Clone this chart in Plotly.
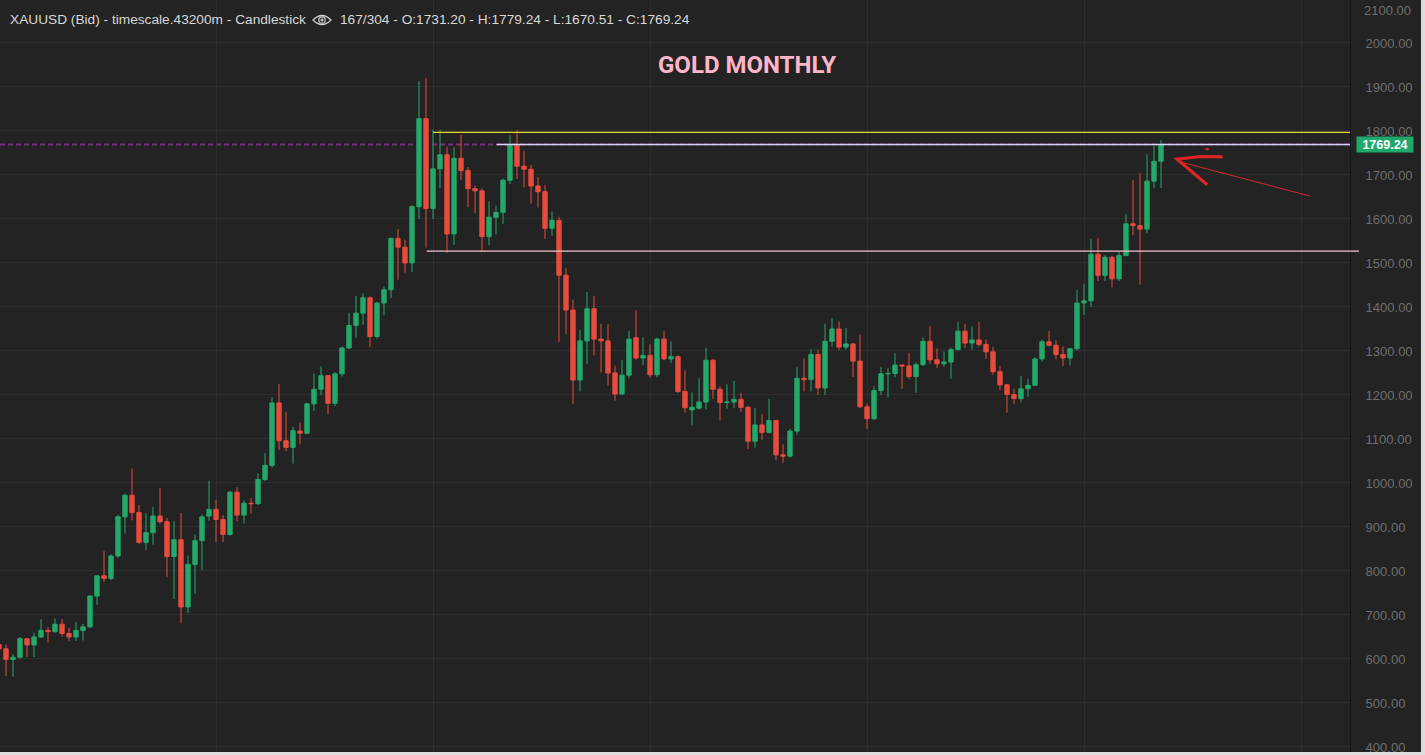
import plotly.graph_objects as go
import pandas as pd

# ---------------- data (XAUUSD monthly, Aug 2006 - Jun 2020) ----------------
months = pd.date_range("2006-08-01", periods=167, freq="MS").strftime("%Y-%m").tolist()

opens = [
    633, 623, 599, 604, 646,
    632, 650, 665, 662, 679, 658, 650, 665, 673, 743, 789, 783,
    834, 923, 972, 933, 865, 887, 925, 912, 833, 871, 718, 815,
    869, 925, 940, 917, 883, 979, 927, 954, 953, 1008, 1040, 1182,
    1096, 1081, 1118, 1113, 1180, 1213, 1244, 1181, 1248, 1307, 1358, 1386,
    1421, 1333, 1409, 1439, 1556, 1536, 1500, 1628, 1828, 1624, 1714, 1746,
    1566, 1738, 1710, 1669, 1664, 1560, 1604, 1615, 1688, 1768, 1720, 1713,
    1675, 1662, 1579, 1597, 1472, 1393, 1234, 1323, 1396, 1327, 1323, 1250,
    1202, 1245, 1330, 1284, 1290, 1246, 1327, 1282, 1287, 1208, 1166, 1170,
    1184, 1279, 1213, 1183, 1184, 1190, 1172, 1095, 1132, 1115, 1142, 1064,
    1061, 1118, 1238, 1235, 1292, 1216, 1322, 1350, 1309, 1316, 1277, 1173,
    1146, 1210, 1248, 1249, 1268, 1266, 1242, 1269, 1322, 1280, 1271, 1275,
    1303, 1345, 1318, 1325, 1315, 1298, 1253, 1223, 1201, 1192, 1214, 1222,
    1282, 1321, 1313, 1292, 1284, 1305, 1409, 1414, 1520, 1472, 1513, 1464,
    1517, 1589, 1585, 1577, 1686, 1731.20,
]
highs = [
    664, 633, 611, 650, 648,
    660, 690, 672, 692, 691, 671, 684, 680, 744, 790, 845, 838,
    928, 976, 1033, 950, 931, 946, 988, 920, 913, 932, 835, 883,
    928, 1005, 962, 927, 982, 990, 960, 966, 1022, 1068, 1195, 1225,
    1162, 1128, 1137, 1181, 1249, 1265, 1245, 1252, 1310, 1387, 1425, 1431,
    1424, 1411, 1447, 1557, 1577, 1553, 1632, 1913, 1921, 1803, 1803, 1764,
    1763, 1791, 1718, 1676, 1669, 1640, 1630, 1692, 1790, 1802, 1755, 1723,
    1695, 1677, 1617, 1605, 1488, 1417, 1348, 1434, 1425, 1362, 1361, 1267,
    1280, 1346, 1392, 1331, 1315, 1330, 1345, 1322, 1290, 1256, 1206, 1238,
    1307, 1282, 1219, 1224, 1232, 1205, 1175, 1170, 1157, 1191, 1143, 1088,
    1123, 1263, 1283, 1304, 1303, 1362, 1375, 1367, 1352, 1318, 1337, 1180,
    1220, 1264, 1261, 1295, 1270, 1296, 1274, 1331, 1357, 1306, 1299, 1307,
    1366, 1362, 1356, 1366, 1326, 1309, 1266, 1225, 1214, 1243, 1237, 1285,
    1326, 1346, 1324, 1310, 1305, 1439, 1452, 1555, 1557, 1518, 1516, 1525,
    1611, 1689, 1704, 1747, 1765, 1779.24,
]
lows = [
    610, 561, 560, 601, 605,
    604, 648, 637, 660, 651, 640, 641, 642, 670, 723, 775, 779,
    830, 885, 915, 862, 848, 860, 908, 786, 736, 681, 705, 748,
    802, 914, 866, 866, 880, 913, 908, 930, 950, 1004, 1035, 1075,
    1072, 1044, 1088, 1112, 1164, 1200, 1157, 1175, 1242, 1305, 1330, 1360,
    1309, 1328, 1381, 1420, 1462, 1478, 1480, 1600, 1535, 1600, 1670, 1523,
    1541, 1688, 1627, 1613, 1527, 1540, 1565, 1589, 1680, 1691, 1672, 1635,
    1626, 1555, 1562, 1321, 1338, 1180, 1208, 1271, 1290, 1251, 1221, 1187,
    1202, 1238, 1280, 1268, 1240, 1240, 1280, 1273, 1205, 1160, 1131, 1167,
    1167, 1191, 1142, 1169, 1170, 1162, 1077, 1080, 1098, 1113, 1052, 1046,
    1058, 1110, 1208, 1208, 1200, 1200, 1310, 1302, 1303, 1241, 1171, 1123,
    1144, 1200, 1195, 1240, 1214, 1236, 1205, 1266, 1271, 1261, 1264, 1237,
    1302, 1307, 1303, 1310, 1282, 1246, 1211, 1160, 1180, 1183, 1196, 1221,
    1276, 1311, 1281, 1266, 1267, 1301, 1382, 1400, 1459, 1459, 1445, 1459,
    1515, 1563, 1451, 1567, 1670, 1670.51,
]
closes = [
    623, 599, 604, 646, 632,
    650, 665, 662, 679, 658, 650, 665, 673, 743, 789, 783, 834,
    923, 972, 933, 865, 887, 925, 912, 833, 871, 718, 815, 869,
    923, 940, 917, 883, 979, 927, 954, 953, 1008, 1040, 1182, 1096,
    1081, 1119, 1113, 1180, 1213, 1244, 1181, 1248, 1307, 1358, 1386, 1421,
    1333, 1409, 1439, 1556, 1536, 1500, 1628, 1828, 1624, 1714, 1746, 1566,
    1738, 1710, 1669, 1664, 1560, 1604, 1615, 1688, 1768, 1720, 1713, 1675,
    1662, 1579, 1597, 1472, 1393, 1234, 1323, 1396, 1327, 1323, 1250, 1202,
    1245, 1327, 1284, 1290, 1246, 1327, 1282, 1287, 1208, 1171, 1172, 1184,
    1279, 1213, 1183, 1184, 1190, 1172, 1095, 1132, 1115, 1142, 1064, 1061,
    1118, 1238, 1235, 1292, 1216, 1322, 1350, 1309, 1316, 1277, 1173, 1146,
    1210, 1248, 1249, 1268, 1266, 1242, 1269, 1322, 1280, 1271, 1275, 1303,
    1345, 1318, 1325, 1315, 1298, 1253, 1223, 1201, 1192, 1214, 1222, 1282,
    1321, 1313, 1292, 1284, 1305, 1409, 1414, 1520, 1472, 1513, 1464, 1517,
    1589, 1585, 1577, 1686, 1731, 1769.24,
]

price_ticks = list(range(400, 2001, 100))
extra_top_tick = 2100

# horizontal study lines: (level, start bar index)
yellow_level, yellow_start = 1797, 62
pink_level, pink_start = 1527, 61.1
white_level, white_start = 1769.24, 71.1

# ---------------- layout geometry ----------------
W, H = 1425, 755
ML, MR, MT, MB = 0, 75, 0, 3
PW, PH = W - ML - MR, H - MT - MB
XR = [1 / 7, 1351 / 7]
YR = [388.6, 2097.7]

UP, DOWN = "#24a96b", "#e84c3d"
BG = "#232323"
GRID = "#2e2e2e"


def px(x):  # pixel x -> paper
    return (x - ML) / PW


def py(y):  # pixel y -> paper
    return 1 - (y - MT) / PH


def xi(i):  # bar index -> paper
    return (i - XR[0]) / (XR[1] - XR[0])


x_idx = list(range(len(months)))

fig = go.Figure()
fig.add_trace(go.Candlestick(
    x=x_idx, open=opens, high=highs, low=lows, close=closes,
    text=months, hoverinfo="text+y",
    increasing=dict(line=dict(color=UP, width=1), fillcolor=UP),
    decreasing=dict(line=dict(color=DOWN, width=1), fillcolor=DOWN),
    whiskerwidth=0, showlegend=False,
))

shapes = []
# purple dashed last-price line
shapes.append(dict(type="line", xref="paper", yref="y", x0=0, x1=1,
                   y0=closes[-1], y1=closes[-1],
                   line=dict(color="#74307a", width=2, dash="5px,3px"), layer="below"))
# lavender line
shapes.append(dict(type="line", xref="paper", yref="y", x0=xi(white_start), x1=1,
                   y0=white_level, y1=white_level,
                   line=dict(color="#d4d6f7", width=1.3), layer="above"))
# yellow line
shapes.append(dict(type="line", xref="paper", yref="y", x0=xi(yellow_start), x1=1,
                   y0=yellow_level, y1=yellow_level,
                   line=dict(color="#e6dc2a", width=1.2), layer="above"))
# pink line
shapes.append(dict(type="line", xref="paper", yref="y", x0=xi(pink_start), x1=px(1359),
                   y0=pink_level, y1=pink_level,
                   line=dict(color="#f3c3cc", width=1.3), layer="above"))

# hand-drawn red arrow (data coordinates)
shapes.append(dict(type="line", xref="x", yref="y", x0=187.3, y0=1652, x1=168.7, y1=1730,
                   line=dict(color="#d42a2a", width=1), layer="above"))
shapes.append(dict(type="path", xref="x", yref="y",
                   path="M 174.8,1741 L 171.6,1742 L 168.3,1736 L 172.6,1678",
                   line=dict(color="#e02323", width=3.2), layer="above"))
shapes.append(dict(type="circle", xref="x", yref="y", x0=172.4, x1=172.8, y0=1757, y1=1761,
                   line=dict(color="#e02323", width=1), fillcolor="#e02323", layer="above"))

# eye icon in the header
shapes.append(dict(type="path", xref="paper", yref="paper",
                   path=(f"M {px(313)},{py(20)} Q {px(322)},{py(11)} {px(331)},{py(20)} "
                         f"Q {px(322)},{py(29)} {px(313)},{py(20)} Z"),
                   line=dict(color="#d0d0d0", width=1.2), layer="above"))
shapes.append(dict(type="circle", xref="paper", yref="paper",
                   x0=px(318.8), x1=px(325.2), y0=py(23.2), y1=py(16.8),
                   line=dict(color="#d0d0d0", width=1.2), layer="above"))
shapes.append(dict(type="circle", xref="paper", yref="paper",
                   x0=px(320.8), x1=px(323.2), y0=py(21.2), y1=py(18.8),
                   line=dict(color="#d0d0d0", width=0.5), fillcolor="#d0d0d0", layer="above"))

# light window border strips (right / bottom)
shapes.append(dict(type="rect", xref="paper", yref="paper", x0=px(1421), x1=px(1426),
                   y0=py(-1), y1=py(756), line=dict(width=0), fillcolor="#dcdcdc", layer="above"))
shapes.append(dict(type="rect", xref="paper", yref="paper", x0=px(-1), x1=px(1426),
                   y0=py(752), y1=py(756), line=dict(width=0), fillcolor="#dcdcdc", layer="above"))

hdr_font = dict(family="Liberation Sans, Arial, sans-serif", size=13.7, color="#d8d8d8")
annotations = [
    dict(text="XAUUSD (Bid) - timescale.43200m - Candlestick", xref="paper", yref="paper",
         x=px(8), y=py(20), xanchor="left", yanchor="middle", showarrow=False, font=hdr_font),
    dict(text=(f"{len(months)}/304 - O:{opens[-1]:.2f} - H:{highs[-1]:.2f} - "
               f"L:{lows[-1]:.2f} - C:{closes[-1]:.2f}"),
         xref="paper", yref="paper", x=px(338), y=py(20), xanchor="left", yanchor="middle",
         showarrow=False, font=hdr_font),
    dict(text="<b>GOLD MONTHLY</b>", xref="paper", yref="paper", x=px(747), y=py(65),
         xanchor="center", yanchor="middle", showarrow=False,
         font=dict(family="Roboto, Liberation Sans, Arial", size=24, color="#ffb5c9")),
    dict(text=f"{extra_top_tick:.2f}", xref="paper", yref="paper", x=px(1362), y=py(10),
         xanchor="left", yanchor="middle", showarrow=False,
         font=dict(family="Liberation Sans, Arial", size=13, color="#6e6e6e")),
    dict(text=f"<b>{closes[-1]:.2f}</b>", xref="paper", yref="y", x=px(1356), y=closes[-1],
         xanchor="left", yanchor="middle", showarrow=False, bgcolor="#1ea86a",
         width=55, height=14, borderpad=0.5,
         font=dict(family="Liberation Sans, Arial", size=12.5, color="#ffffff")),
]

fig.update_layout(
    width=W, height=H,
    margin=dict(l=ML, r=MR, t=MT, b=MB, pad=0),
    paper_bgcolor=BG, plot_bgcolor=BG,
    shapes=shapes, annotations=annotations,
    boxgap=0.12,
    xaxis=dict(range=XR, rangeslider=dict(visible=False), showticklabels=False,
               tickvals=[31.14 + 31 * k for k in range(7)], showgrid=True, gridcolor=GRID,
               gridwidth=1, zeroline=False, showline=False, ticks=""),
    yaxis=dict(range=YR, side="right", tickvals=price_ticks, tickformat=".2f",
               showgrid=True, gridcolor=GRID, gridwidth=1, zeroline=False,
               showline=True, linecolor="#171717", linewidth=1, ticks="",
               ticklabelstandoff=12,
               tickfont=dict(family="Liberation Sans, Arial", size=13, color="#6e6e6e")),
    hovermode="closest",
)

fig.write_html("out.html", config={"displayModeBar": False},
               post_script="document.body.style.margin='0';document.body.style.overflow='hidden';")
